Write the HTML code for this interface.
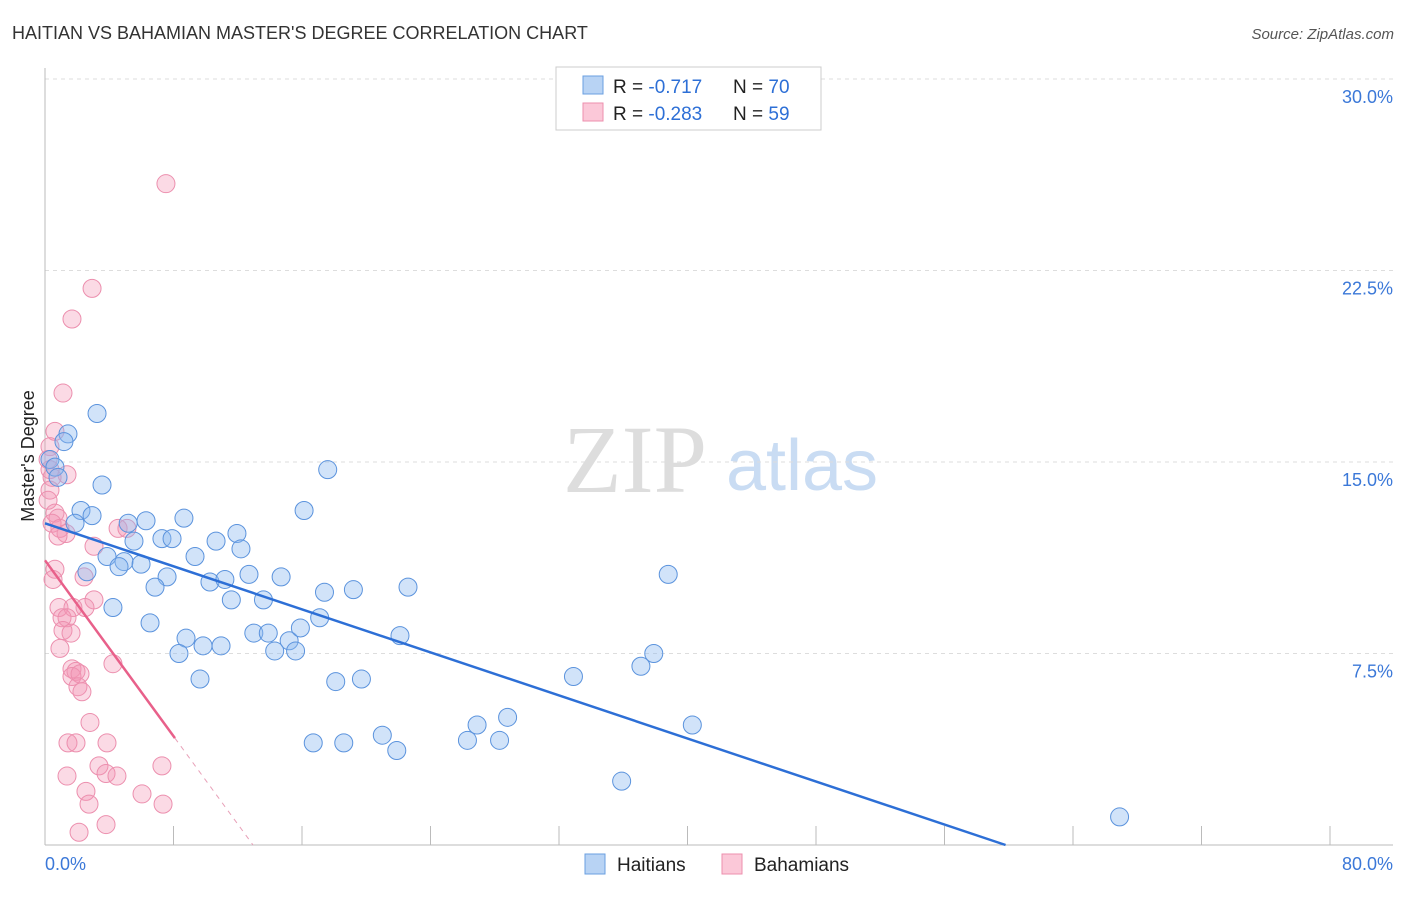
<!DOCTYPE html>
<html><head><meta charset="utf-8"><style>
body{margin:0;background:#fff;font-family:"Liberation Sans",sans-serif}
</style></head><body>
<svg id="c" width="1406" height="892" xmlns="http://www.w3.org/2000/svg" style="font-family:'Liberation Sans',sans-serif">
<text x="12" y="39" font-size="18" fill="#333">HAITIAN VS BAHAMIAN MASTER'S DEGREE CORRELATION CHART</text>
<text x="1394" y="39" font-size="15" fill="#555" font-style="italic" text-anchor="end">Source: ZipAtlas.com</text>
<text x="635" y="492" font-size="96" fill="#ddd" font-family="Liberation Serif" text-anchor="middle">ZIP</text>
<text x="802" y="490" font-size="72" fill="#c9dcf3" text-anchor="middle">atlas</text>
<g id="grid"></g><g id="axes"></g><g id="pts"></g><g id="lines"></g>
<text x="34" y="456" font-size="18" fill="#222" text-anchor="middle" transform="rotate(-90 34 456)">Master's Degree</text>
<g>
<rect x="556" y="67" width="265" height="63" fill="#fff" stroke="#ccc"/>
<rect x="583" y="76" width="20" height="18" fill="#b8d3f4" stroke="#6a9fe0"/>
<rect x="583" y="103" width="20" height="18" fill="#fbc8d8" stroke="#ec8fae"/>
<text x="613" y="93" font-size="19" fill="#222">R = <tspan fill="#2d6fd6">-0.717</tspan><tspan x="733">N = </tspan><tspan fill="#2d6fd6">70</tspan></text>
<text x="613" y="120" font-size="19" fill="#222">R = <tspan fill="#2d6fd6">-0.283</tspan><tspan x="733">N = </tspan><tspan fill="#2d6fd6">59</tspan></text>
</g>
<g>
<rect x="585" y="854" width="20" height="20" fill="#b8d3f4" stroke="#6a9fe0"/>
<text x="617" y="871" font-size="19" fill="#222">Haitians</text>
<rect x="722" y="854" width="20" height="20" fill="#fbc8d8" stroke="#ec8fae"/>
<text x="754" y="871" font-size="19" fill="#222">Bahamians</text>
</g>
</svg>
<script>
const yTicks=[7.5,15,22.5,30];
const yTickLabels=["7.5%","15.0%","22.5%","30.0%"];
const xTickCount=10;
const haitiansX=[3.24,1.43,1.18,0.31,0.62,0.81,3.55,2.24,2.93,1.87,5.18,6.29,8.65,16.13,17.6,7.28,7.91,5.54,10.65,11.95,12.2,3.86,9.34,4.92,4.61,5.98,2.61,7.6,10.27,11.2,12.7,14.7,6.85,11.6,13.6,17.4,19.2,22.6,38.8,4.23,6.54,17.1,8.78,13.0,13.9,15.2,15.9,22.1,9.84,10.96,8.34,14.3,15.6,37.9,37.1,9.65,18.1,19.7,32.9,28.8,26.9,40.3,21.0,16.7,18.6,21.9,26.3,28.3,35.9,66.9];
const haitiansY=[16.9,16.1,15.8,15.1,14.8,14.4,14.1,13.1,12.9,12.6,12.6,12.7,12.8,13.1,14.7,12.0,12.0,11.9,11.9,12.2,11.6,11.3,11.3,11.1,10.9,11.0,10.7,10.5,10.3,10.4,10.6,10.5,10.1,9.6,9.6,9.9,10.0,10.1,10.6,9.3,8.7,8.9,8.1,8.3,8.3,8.0,8.5,8.2,7.8,7.8,7.5,7.6,7.6,7.5,7.0,6.5,6.4,6.5,6.6,5.0,4.7,4.7,4.3,4.0,4.0,3.7,4.1,4.1,2.5,1.1];
const bahamiansX=[7.53,2.93,1.68,1.12,0.62,0.31,0.19,0.31,1.37,0.44,0.31,0.19,0.62,0.81,0.44,0.93,1.31,0.81,4.55,5.1,3.05,0.62,0.5,2.43,3.05,0.87,2.49,1.74,1.06,1.37,1.12,1.62,0.93,4.23,1.68,1.93,1.68,2.18,2.05,2.3,2.8,1.43,1.93,3.86,7.28,3.36,1.37,3.8,4.48,2.55,6.04,2.74,7.35,3.8,2.12];
const bahamiansY=[25.9,21.8,20.6,17.7,16.2,15.6,15.1,14.7,14.5,14.4,13.9,13.5,13.0,12.8,12.6,12.4,12.2,12.1,12.4,12.4,11.7,10.8,10.4,10.5,9.6,9.3,9.3,9.3,8.9,8.9,8.4,8.3,7.7,7.1,6.9,6.8,6.6,6.7,6.2,6.0,4.8,4.0,4.0,4.0,3.1,3.1,2.7,2.8,2.7,2.1,2.0,1.6,1.6,0.8,0.5];
const blueFit=[12.6,-0.2107];
const pinkFit=[11.15,-0.861,8.09,12.95];
const X0=45,X1=1330,Y0=845,Y30=79;
const sx=v=>X0+v/80*(X1-X0);
const sy=v=>Y0-v/30*(Y0-Y30);
const NS="http://www.w3.org/2000/svg";
function mk(tag,attrs,parent){const e=document.createElementNS(NS,tag);for(const k in attrs)e.setAttribute(k,attrs[k]);document.getElementById(parent).appendChild(e);return e;}
yTicks.forEach((t,i)=>{
 const l=mk('line',{x1:45,x2:1393,y1:sy(t),y2:sy(t),stroke:'#ddd','stroke-dasharray':'4,4'},'grid');
 
 
 const tx=mk('text',{x:1393,y:sy(t)+24,'font-size':18,fill:'#3b78d8','text-anchor':'end'},'grid');
 tx.textContent=yTickLabels[i];
 
 
});
let ax=mk('line',{x1:45,x2:45,y1:68,y2:845,stroke:'#bbb'},'axes');


ax=mk('line',{x1:45,x2:1393,y1:845,y2:845,stroke:'#bbb'},'axes');


for(let i=1;i<=xTickCount;i++){
 const x=sx(i*8);
 const t=mk('line',{x1:x,x2:x,y1:826,y2:845,stroke:'#bbb'},'axes');
 
 
}
let lb=mk('text',{x:45,y:870,'font-size':18,fill:'#3b78d8'},'axes');lb.textContent='0.0%';


lb=mk('text',{x:1393,y:870,'font-size':18,fill:'#3b78d8','text-anchor':'end'},'axes');lb.textContent='80.0%';


bahamiansX.forEach((x,i)=>{
 const c=mk('circle',{cx:sx(x),cy:sy(bahamiansY[i]),r:9,fill:'rgba(244,150,180,0.35)',stroke:'#ec8fae','stroke-width':1},'pts');
 
 
});
haitiansX.forEach((x,i)=>{
 const c=mk('circle',{cx:sx(x),cy:sy(haitiansY[i]),r:9,fill:'rgba(140,185,240,0.4)',stroke:'#5b93dd','stroke-width':1},'pts');
 
 
});
const bx1=-blueFit[0]/blueFit[1];
let ln=mk('line',{x1:sx(0),y1:sy(blueFit[0]),x2:sx(bx1),y2:sy(0),stroke:'#2d6fd6','stroke-width':2.5},'lines');


ln=mk('line',{x1:sx(0),y1:sy(pinkFit[0]),x2:sx(pinkFit[2]),y2:sy(pinkFit[0]+pinkFit[1]*pinkFit[2]),stroke:'#e8608a','stroke-width':2.5},'lines');


ln=mk('line',{x1:sx(pinkFit[2]),y1:sy(pinkFit[0]+pinkFit[1]*pinkFit[2]),x2:sx(pinkFit[3]),y2:sy(Math.max(0,pinkFit[0]+pinkFit[1]*pinkFit[3])),stroke:'#e8a0b8','stroke-width':1,'stroke-dasharray':'5,5'},'lines');


</script>
</body></html>
